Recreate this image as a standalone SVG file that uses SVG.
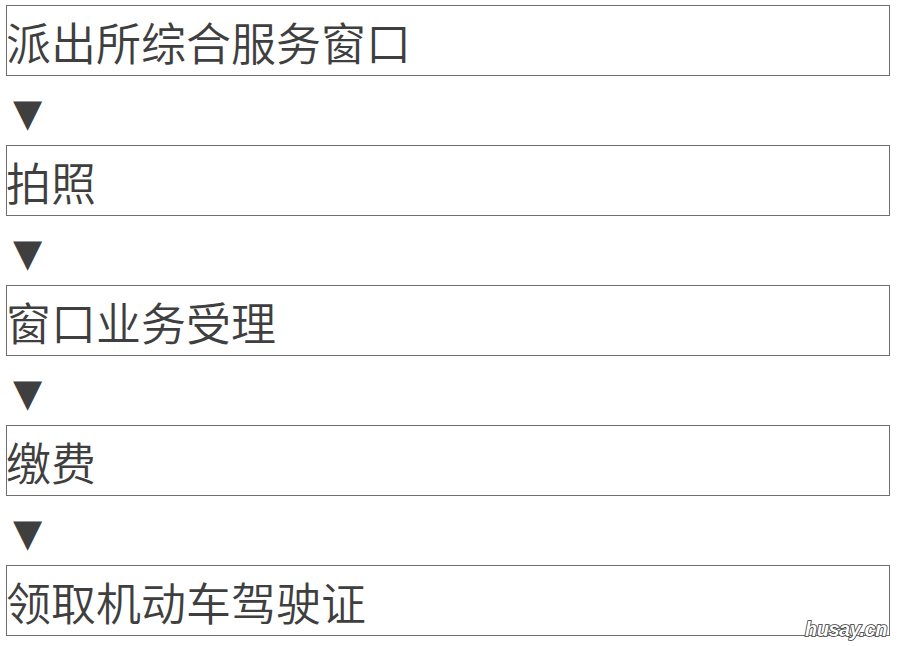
<svg xmlns="http://www.w3.org/2000/svg" width="898" height="646" viewBox="0 0 898 646">
<style>
.box{fill:#fff;stroke:#6e6e6e;stroke-width:1}
.t{font-family:"Noto Sans CJK SC","Noto Sans",sans-serif;font-size:45px;font-weight:350;fill:#3f3f3f}
.arr{font-family:"DejaVu Sans",sans-serif;font-size:38px;fill:#3f3f3f}
.wm{font-family:"Liberation Sans",Arial,sans-serif;font-size:20px;font-weight:bold;font-style:italic;fill:#fff;stroke:#333;stroke-width:1.6;paint-order:stroke;letter-spacing:-0.5px}
</style>
<rect width="898" height="646" fill="#fff"/>
<g id="node1"><rect class="box" x="6.5" y="5.5" width="883" height="70"/><text class="t" x="6" y="61">派出所综合服务窗口</text></g>
<g id="node2"><rect class="box" x="6.5" y="145.5" width="883" height="70"/><text class="t" x="6" y="201">拍照</text></g>
<g id="node3"><rect class="box" x="6.5" y="285.5" width="883" height="70"/><text class="t" x="6" y="341">窗口业务受理</text></g>
<g id="node4"><rect class="box" x="6.5" y="425.5" width="883" height="70"/><text class="t" x="6" y="481">缴费</text></g>
<g id="node5"><rect class="box" x="6.5" y="565.5" width="883" height="70"/><text class="t" x="6" y="621">领取机动车驾驶证</text></g>
<g id="connectors">
<text class="arr" x="13" y="126">▼</text>
<text class="arr" x="13" y="266">▼</text>
<text class="arr" x="13" y="406">▼</text>
<text class="arr" x="13" y="546">▼</text>
</g>
<text class="wm" x="805" y="636">husay.cn</text>
</svg>
